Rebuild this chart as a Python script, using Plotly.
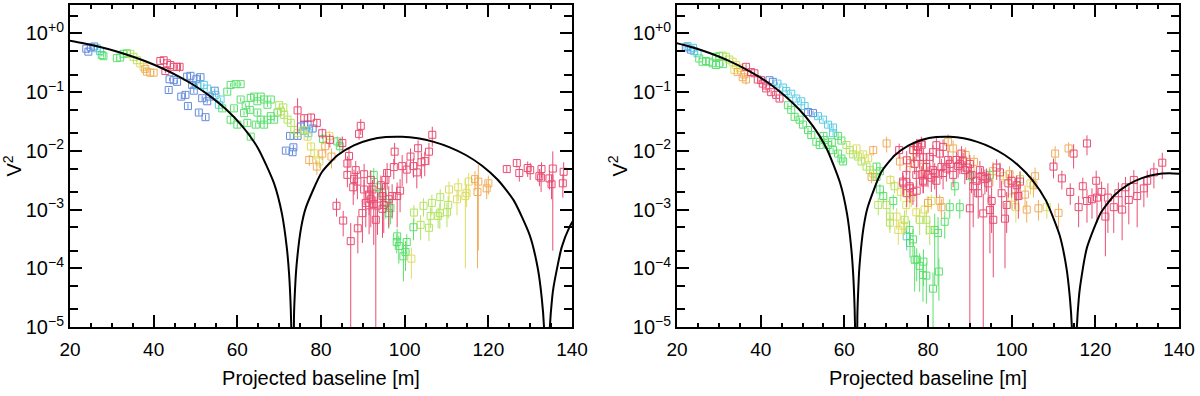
import plotly.graph_objects as go

# ---- model curves (uniform disk fits) ----
left_model_x = [19.1, 22.92, 26.74, 30.56, 34.38, 38.2, 42.02, 45.84, 49.66, 53.48, 57.3, 61.12,
                64.94, 68.76, 70.67, 71.82, 72.39, 72.77, 72.96, 73.19, 73.54, 73.73, 74.11, 75.25,
                76.4, 80.22, 84.04, 87.86, 91.68, 95.5, 99.32, 103.14, 106.96, 110.78, 114.6,
                118.42, 122.24, 126.06, 129.88, 131.79, 132.75, 133.32, 134.0, 134.66, 135.23,
                135.61, 137.52, 139.43, 141.34]
left_model_v2 = [0.7748, 0.6897, 0.5993, 0.5075, 0.4175, 0.3326, 0.2555, 0.1879, 0.1312, 0.0856,
                 0.0511, 0.02667, 0.01111, 0.002815, 8.46e-4, 2.27e-4, 7.7e-5, 2.08e-5, 6.0e-6,
                 1e-9, 1.48e-5, 3.54e-5, 1.03e-4, 4.93e-4, 1.089e-3, 4.36e-3, 8.5e-3, 0.01245,
                 0.01547, 0.01717, 0.01742, 0.01636, 0.01425, 0.0115, 0.00851, 0.00564, 0.00322,
                 0.001435, 3.68e-4, 1.02e-4, 3.16e-5, 9.3e-6, 1e-9, 8.7e-6, 3.04e-5, 4.96e-5,
                 2.27e-4, 5.12e-4, 8.77e-4]

right_model_x = [19.67, 22.95, 26.22, 29.5, 32.78, 36.06, 39.34, 42.61, 45.89, 49.17, 52.45, 55.73,
                 59.0, 60.64, 61.63, 62.12, 62.45, 62.61, 62.8, 63.1, 63.27, 63.59, 64.58, 65.56,
                 68.84, 72.12, 75.39, 78.67, 81.95, 85.23, 88.51, 91.78, 95.06, 98.34, 101.62,
                 104.9, 108.17, 111.45, 113.09, 113.91, 114.4, 114.99, 115.55, 116.04, 116.37,
                 118.01, 121.29, 124.56, 127.84, 131.12, 134.4, 137.68, 140.95]
right_model_v2 = [0.6897, 0.5993, 0.5075, 0.4175, 0.3326, 0.2555, 0.1879, 0.1312, 0.0856, 0.0511,
                  0.02667, 0.01111, 0.002815, 8.46e-4, 2.27e-4, 7.7e-5, 2.08e-5, 6.0e-6, 1e-9,
                  1.48e-5, 3.54e-5, 1.03e-4, 4.93e-4, 1.089e-3, 4.36e-3, 8.5e-3, 0.01245, 0.01547,
                  0.01717, 0.01742, 0.01636, 0.01425, 0.0115, 0.00851, 0.00564, 0.00322, 0.001435,
                  3.68e-4, 1.02e-4, 3.16e-5, 9.3e-6, 1e-9, 8.7e-6, 3.04e-5, 4.96e-5, 2.27e-4,
                  8.77e-4, 1.755e-3, 2.667e-3, 3.44e-3, 3.96e-3, 4.16e-3, 4.02e-3]

# ---- measured V2, left panel, grouped by spectral colour ----
left_blue_x = [23.9, 24.4, 25.0, 25.8,
               43.8, 43.6, 44.8, 45.6, 46.6, 47.6, 48.0, 48.2, 48.8, 49.2,
               49.6, 50.2, 50.8, 51.2, 51.6, 52.4, 52.8, 53.4, 54.6,
               71.6, 73.4, 73.2, 72.6, 74.4, 75.2, 76.0, 76.8, 78.0]
left_blue_v2 = [0.55, 0.49, 0.58, 0.60,
                0.166, 0.109, 0.16, 0.15, 0.084, 0.09, 0.184, 0.058, 0.19, 0.133,
                0.106, 0.166, 0.045, 0.18, 0.079, 0.0375, 0.07, 0.084, 0.106,
                0.0101, 0.0115, 0.0095, 0.018, 0.018, 0.026, 0.028, 0.028, 0.024]
left_blue_err = [0.03, 0.03, 0.03, 0.03,
                 0.01, 0.01, 0.01, 0.01, 0.008, 0.01, 0.02, 0.006, 0.03, 0.015,
                 0.01, 0.04, 0.005, 0.02, 0.008, 0.004, 0.006, 0.008, 0.01,
                 0.001, 0.0012, 0.001, 0.002, 0.002, 0.003, 0.003, 0.003, 0.003]

left_cyan_x = [26.4, 27.2, 50.5, 52.0, 52.8, 54.8, 55.6, 56.0, 75.8, 77.0]
left_cyan_v2 = [0.56, 0.50, 0.13, 0.133, 0.115, 0.09, 0.061, 0.075, 0.022, 0.02]
left_cyan_err = [0.03, 0.03, 0.01, 0.01, 0.01, 0.008, 0.006, 0.006, 0.003, 0.003]

left_green_x = [27.6, 28.0, 31.2, 32.0, 32.8, 33.6,
                56.4, 57.6, 58.4, 59.6, 60.8, 59.2, 58.4, 60.0, 60.8, 61.6,
                62.4, 63.2, 63.2, 64.0, 64.8, 65.6, 66.4, 67.2, 68.0, 64.8,
                65.6, 66.4, 67.2, 68.0, 68.8, 69.6, 64.4, 62.0, 63.0,
                80.5, 83.9, 84.5, 92.6, 94.7, 96.6, 96.2, 93.5, 95.5,
                98.1, 98.2, 98.6, 99.7, 100.5, 100.2, 102.1]
left_green_v2 = [0.43, 0.41, 0.38, 0.39, 0.45, 0.46,
                 0.053, 0.102, 0.133, 0.137, 0.137, 0.053, 0.034, 0.028, 0.075, 0.044,
                 0.03, 0.0175, 0.08, 0.084, 0.07, 0.084, 0.075, 0.061, 0.075, 0.045,
                 0.034, 0.028, 0.034, 0.039, 0.034, 0.045, 0.028, 0.06, 0.05,
                 0.016, 0.0145, 0.012, 0.0039, 0.0019, 0.00106, 0.00087, 0.0024, 0.0013,
                 0.00028, 0.00035, 0.00024, 0.00016, 0.00028, 0.00019, 0.0005]
left_green_err = [0.02, 0.02, 0.02, 0.02, 0.02, 0.02,
                  0.005, 0.008, 0.01, 0.01, 0.01, 0.005, 0.006, 0.004, 0.006, 0.004,
                  0.003, 0.002, 0.006, 0.006, 0.006, 0.006, 0.006, 0.005, 0.006, 0.004,
                  0.003, 0.003, 0.003, 0.003, 0.003, 0.003, 0.003, 0.005, 0.005,
                  0.003, 0.003, 0.003, 0.0012, 0.0008, 0.0005, 0.0004, 0.001, 0.0006,
                  0.0001, 0.00012, 0.00012, 0.0001, 0.0001, 0.0001, 0.0002]

left_lime_x = [34.4, 35.2, 36.0,
               70.4, 71.2, 72.0, 72.8, 73.6, 74.4, 70.0, 71.0,
               102.2, 103.8, 104.5, 105.8, 106.2, 106.5, 108.0, 108.4, 108.5, 110.1, 110.4]
left_lime_v2 = [0.45, 0.40, 0.35,
                0.047, 0.041, 0.034, 0.03, 0.0227, 0.02, 0.06, 0.055,
                0.00089, 0.00055, 0.00116, 0.00049, 0.00078, 0.0013, 0.00078, 0.00087, 0.00163,
                0.0009, 0.0012]
left_lime_err = [0.02, 0.02, 0.02,
                 0.004, 0.004, 0.003, 0.003, 0.003, 0.003, 0.005, 0.004,
                 0.0003, 0.00025, 0.0004, 0.0002, 0.0003, 0.0005, 0.0003, 0.0004, 0.0006,
                 0.0004, 0.0005]

left_yellow_x = [36.8, 37.6, 76.0, 76.8, 77.6, 78.4, 79.6, 82.0,
                 101.6, 110.6, 112.5, 112.8, 114.5, 114.8, 115.3]
left_yellow_v2 = [0.31, 0.27, 0.0227, 0.0175, 0.0119, 0.0091, 0.0066, 0.018,
                  0.000146, 0.0022, 0.0015, 0.0024, 0.0017, 0.0019, 0.003]
left_yellow_err = [0.02, 0.02, 0.003, 0.003, 0.002, 0.002, 0.0015, 0.004,
                   0.00008, 0.0008, 0.0007, 0.001, 0.0016, 0.0008, 0.0012]

left_orange_x = [38.0, 38.4, 39.2, 40.0, 77.2, 79.0, 80.3, 81.0, 82.5,
                 116.8, 117.4, 117.6, 119.6, 120.0]
left_orange_v2 = [0.25, 0.224, 0.215, 0.215, 0.007, 0.0054, 0.009, 0.012, 0.008,
                  0.0033, 0.002, 0.003, 0.0023, 0.0028]
left_orange_err = [0.015, 0.015, 0.015, 0.015, 0.0015, 0.0015, 0.002, 0.003, 0.003,
                   0.0012, 0.0019, 0.0028, 0.0008, 0.001]

left_red_x = [41.6, 42.4, 43.2, 44.0, 44.8, 45.6, 46.2, 42.8,
              74.4, 76.0, 77.6, 79.0,
              80.3, 82.1, 85.1, 86.7, 86.3, 88.3, 87.9, 88.7, 86.3, 90.3,
              90.3, 91.5, 90.7, 91.9, 91.5, 89.9, 92.6, 93.1, 91.9, 92.3,
              93.5, 94.7, 95.0, 94.7, 94.3, 95.4, 95.8, 96.2, 97.0, 98.2,
              98.9, 97.6, 97.4, 99.4, 100.5, 101.4, 102.1, 102.9, 103.2, 104.0,
              104.8, 105.8, 106.6, 87.7, 83.7, 85.3, 87.1, 88.8, 89.5, 89.1,
              124.4, 126.8, 127.4, 129.4, 130.0, 132.2, 132.7, 132.6, 134.6, 135.1,
              135.4, 137.8, 138.0]
left_red_v2 = [0.34, 0.35, 0.31, 0.29, 0.27, 0.27, 0.27, 0.23,
               0.049, 0.036, 0.037, 0.03,
               0.020, 0.0154, 0.0136, 0.0082, 0.0061, 0.0047, 0.0033, 0.003, 0.0039, 0.004,
               0.0022, 0.0018, 0.0013, 0.0015, 0.00118, 0.00087, 0.00125, 0.00067, 0.0032, 0.0022,
               0.00117, 0.00103, 0.0012, 0.0017, 0.0026, 0.0032, 0.0042, 0.0015, 0.0017, 0.0017,
               0.0021, 0.0097, 0.0053, 0.0055, 0.0048, 0.008, 0.0055, 0.0043, 0.0111, 0.0064,
               0.0067, 0.0097, 0.0188, 0.0024, 0.00116, 0.00065, 0.00029, 0.00048, 0.0267, 0.0195,
               0.0049, 0.0062, 0.0042, 0.0051, 0.0047, 0.0037, 0.0049, 0.0035, 0.0034, 0.0027,
               0.005, 0.0028, 0.0044]
left_red_err = [0.02, 0.02, 0.02, 0.02, 0.02, 0.02, 0.05, 0.02,
                0.03, 0.005, 0.006, 0.005,
                0.004, 0.004, 0.004, 0.003, 0.002, 0.002, 0.0015, 0.0015, 0.0015, 0.002,
                0.001, 0.001, 0.0008, 0.001, 0.0008, 0.0006, 0.001, 0.001, 0.0015, 0.001,
                0.0008, 0.0007, 0.0008, 0.001, 0.0012, 0.0015, 0.002, 0.001, 0.001, 0.0012,
                0.0012, 0.004, 0.002, 0.003, 0.002, 0.003, 0.002, 0.002, 0.004, 0.003,
                0.003, 0.004, 0.007, 0.0012, 0.0004, 0.0003, 0.0003, 0.0003, 0.008, 0.004,
                0.0006, 0.001, 0.0012, 0.0015, 0.0015, 0.0012, 0.0015, 0.0015, 0.0012, 0.0012,
                0.0048, 0.0012, 0.002]

# ---- measured V2, right panel ----
right_blue_x = [22.1, 23.3, 42.1, 42.9, 51.3, 52.5]
right_blue_v2 = [0.58, 0.53, 0.16, 0.15, 0.046, 0.044]
right_blue_err = [0.03, 0.03, 0.01, 0.01, 0.004, 0.004]

right_cyan_x = [22.5, 23.8, 24.1, 24.9, 44.0, 45.3, 46.1, 47.3, 48.5, 49.7, 50.5,
                53.7, 54.9, 56.1, 57.3, 57.3, 74.9]
right_cyan_v2 = [0.61, 0.57, 0.50, 0.46, 0.14, 0.12, 0.105, 0.094, 0.078, 0.07, 0.058,
                 0.039, 0.034, 0.028, 0.025, 0.02, 0.00035]
right_cyan_err = [0.03, 0.03, 0.03, 0.03, 0.01, 0.01, 0.01, 0.008, 0.007, 0.006, 0.005,
                  0.004, 0.003, 0.003, 0.003, 0.002, 0.00015]

right_green_x = [25.3, 26.1, 26.9, 27.7, 28.5, 29.3, 30.1, 31.0, 29.3, 30.1,
                 46.5, 47.3, 48.1, 49.3, 50.1, 51.3, 52.1, 53.3, 54.1, 55.3,
                 56.1, 57.3, 58.5, 59.3, 59.7, 55.0, 57.0, 58.5, 59.3, 67.7,
                 67.7, 68.5, 68.5, 69.3, 71.7, 75.7, 77.3, 78.9, 75.6, 76.4,
                 76.8, 78.0, 78.8, 79.6, 81.2, 81.6, 82.4, 82.6, 84.0, 85.2,
                 87.6, 86.4, 90.0, 94.8]
right_green_v2 = [0.375, 0.33, 0.34, 0.33, 0.31, 0.29, 0.31, 0.30, 0.40, 0.41,
                  0.06, 0.05, 0.038, 0.034, 0.028, 0.0226, 0.0186, 0.0143, 0.0126, 0.0153,
                  0.0126, 0.0103, 0.009, 0.0074, 0.0066, 0.018, 0.014, 0.018, 0.015, 0.0036,
                  0.0054, 0.0045, 0.0022, 0.0017, 0.0014, 0.00027, 0.00014, 0.00013, 0.00045, 0.00031,
                  0.00014, 0.00011, 7.7e-5, 7.5e-5, 4.5e-5, 0.00045, 0.0004, 8.8e-5, 0.00062, 0.0011,
                  0.0011, 0.0025, 0.0037, 0.0039]
right_green_err = [0.02, 0.02, 0.02, 0.02, 0.02, 0.02, 0.02, 0.02, 0.02, 0.02,
                   0.005, 0.005, 0.004, 0.003, 0.003, 0.002, 0.002, 0.0015, 0.0013, 0.0015,
                   0.0013, 0.001, 0.001, 0.0008, 0.0008, 0.002, 0.0015, 0.002, 0.0015, 0.0006,
                   0.0008, 0.0007, 0.0005, 0.0004, 0.0004, 0.00012, 0.00008, 0.00008, 0.0002, 0.00015,
                   0.0001, 0.00007, 0.00005, 0.00005, 0.00004, 0.0004, 0.00035, 0.00006, 0.0003, 0.0004,
                   0.0004, 0.0008, 0.001, 0.001]

right_lime_x = [30.9, 31.7, 32.5, 60.5, 61.3, 62.1, 63.3, 64.1, 65.3, 66.1, 66.9,
                68.1, 70.1, 70.9, 70.9, 74.4, 78.0, 79.6, 80.4, 72.0, 102.0]
right_lime_v2 = [0.42, 0.40, 0.36, 0.0126, 0.0103, 0.0087, 0.008, 0.0066, 0.0054, 0.0047, 0.0041,
                 0.0012, 0.0012, 0.00076, 0.0006, 0.00067, 0.00067, 0.00067, 0.00045, 0.0025, 0.0033]
right_lime_err = [0.02, 0.02, 0.02, 0.0013, 0.001, 0.001, 0.001, 0.0008, 0.0007, 0.0007, 0.0006,
                  0.0004, 0.0004, 0.0003, 0.0002, 0.0003, 0.0003, 0.0003, 0.0002, 0.0006, 0.001]

right_yellow_x = [33.3, 34.1, 33.7, 35.0, 62.9, 64.5, 65.7, 72.5, 72.9, 74.1, 74.8,
                  77.2, 79.2, 80.8, 76.0, 73.5, 71.0, 98.0, 104.5, 108.4, 100.0, 101.0]
right_yellow_v2 = [0.33, 0.29, 0.24, 0.26, 0.011, 0.0087, 0.0075, 0.00076, 0.00045, 0.00053, 0.0012,
                   0.0009, 0.001, 0.0014, 0.0016, 0.002, 0.0032, 0.0037, 0.0028, 0.0011, 0.0016, 0.0011]
right_yellow_err = [0.02, 0.02, 0.02, 0.02, 0.0012, 0.001, 0.001, 0.0003, 0.0002, 0.0002, 0.0004,
                    0.0003, 0.0004, 0.0004, 0.0005, 0.0006, 0.0007, 0.001, 0.001, 0.0004, 0.0006, 0.0005]

right_orange_x = [34.5, 35.7, 36.5, 36.1, 66.5, 66.9, 70.1, 80.0, 82.8, 83.2, 84.8,
                  76.4, 86.0, 89.0, 91.0, 95.5, 99.5, 73.3, 75.7, 78.9, 110.4, 113.6,
                  103.6, 106.4, 111.2, 105.2, 103.2, 105.6]
right_orange_v2 = [0.22, 0.18, 0.165, 0.20, 0.0036, 0.0103, 0.0134, 0.0013, 0.0014, 0.0011, 0.0143,
                   0.0103, 0.011, 0.0085, 0.0065, 0.0045, 0.004, 0.0066, 0.0062, 0.0054, 0.009, 0.011,
                   0.001, 0.00105, 0.00088, 0.0026, 0.0018, 0.0037]
right_orange_err = [0.02, 0.02, 0.03, 0.02, 0.0008, 0.002, 0.004, 0.0004, 0.0004, 0.0004, 0.005,
                    0.003, 0.004, 0.003, 0.002, 0.002, 0.0015, 0.002, 0.002, 0.002, 0.003, 0.003,
                    0.0004, 0.0004, 0.0004, 0.001, 0.0008, 0.0015]

right_red_x = [36.5, 37.7, 38.5, 39.3, 40.1, 41.3, 42.5, 43.7, 44.5, 41.3, 40.5,
               73.1, 74.9, 76.5, 77.3, 78.5, 78.9, 74.1, 74.9, 75.7, 77.3,
               78.9, 78.5, 74.8, 75.6, 74.0, 76.8, 77.6, 78.4, 78.0, 77.2,
               76.4, 78.8, 79.6, 80.0, 80.8, 81.2, 81.6, 82.0, 82.8, 83.2,
               83.6, 84.4, 85.2, 86.0, 86.8, 87.2, 88.0, 88.4, 88.8, 89.2,
               90.0, 90.4, 90.8, 90.0, 91.6, 92.0, 92.8, 93.2, 94.0, 94.4,
               94.8, 95.2, 95.6, 96.4, 97.2, 97.6, 98.4, 98.8, 99.2, 100.0,
               100.8, 101.2, 102.0, 101.6, 80.4, 81.2, 84.8, 87.6, 83.6, 92.4,
               93.6, 82.0, 110.0, 112.0, 114.8, 118.0, 114.0, 116.0, 117.0, 118.0,
               120.2, 119.2, 120.4, 122.4, 124.4, 126.4, 128.0, 129.2, 130.0, 131.6,
               132.4, 134.0, 136.0, 121.5, 123.0, 125.5, 127.2]
right_red_v2 = [0.27, 0.22, 0.21, 0.164, 0.16, 0.116, 0.10, 0.09, 0.078, 0.13, 0.14,
                0.0103, 0.0069, 0.0103, 0.012, 0.0127, 0.0078, 0.0028, 0.0019, 0.0023, 0.0021,
                0.0029, 0.004, 0.0039, 0.0025, 0.003, 0.006, 0.0117, 0.0134, 0.0079, 0.0039,
                0.002, 0.0031, 0.0053, 0.0039, 0.0035, 0.0047, 0.0042, 0.0031, 0.009, 0.0053,
                0.0042, 0.005, 0.006, 0.0039, 0.007, 0.0055, 0.009, 0.0068, 0.0047, 0.0052,
                0.006, 0.0039, 0.0025, 0.00105, 0.0031, 0.0019, 0.0037, 0.00086, 0.0035, 0.0028,
                0.00098, 0.0014, 0.00067, 0.0052, 0.0043, 0.0019, 0.0007, 0.0012, 0.0028, 0.0031,
                0.0022, 0.0026, 0.003, 0.0017, 0.0079, 0.0095, 0.007, 0.006, 0.0117, 0.0047,
                0.0033, 0.0125, 0.0054, 0.0034, 0.009, 0.0134, 0.002, 0.0011, 0.0025, 0.0014,
                0.0031, 0.0015, 0.0016, 0.00076, 0.0011, 0.001, 0.00146, 0.0032, 0.0017, 0.0023,
                0.0031, 0.0043, 0.0063, 0.002, 0.0016, 0.0019, 0.0024]
right_red_err = [0.03, 0.02, 0.02, 0.015, 0.015, 0.01, 0.01, 0.01, 0.008, 0.01, 0.01,
                 0.003, 0.003, 0.004, 0.004, 0.004, 0.003, 0.001, 0.0008, 0.001, 0.001,
                 0.001, 0.0015, 0.0015, 0.001, 0.0012, 0.002, 0.004, 0.004, 0.003, 0.0015,
                 0.0008, 0.0012, 0.002, 0.0015, 0.0015, 0.002, 0.002, 0.0015, 0.003, 0.002,
                 0.002, 0.002, 0.002, 0.0015, 0.0025, 0.002, 0.003, 0.0025, 0.002, 0.002,
                 0.0025, 0.002, 0.002, 0.0012, 0.0015, 0.0012, 0.0015, 0.001, 0.0015, 0.0015,
                 0.0008, 0.001, 0.0006, 0.002, 0.002, 0.0012, 0.0006, 0.0008, 0.0012, 0.0015,
                 0.0012, 0.0012, 0.0015, 0.001, 0.003, 0.003, 0.003, 0.002, 0.004, 0.002,
                 0.0015, 0.004, 0.002, 0.0012, 0.004, 0.005, 0.0008, 0.0006, 0.001, 0.0008,
                 0.0015, 0.0008, 0.001, 0.0006, 0.0007, 0.0007, 0.0009, 0.0015, 0.0012, 0.0012,
                 0.0015, 0.002, 0.003, 0.001, 0.0012, 0.001, 0.0012]

colors = {
    'blue': '#4a78d6',
    'cyan': '#3fc6e0',
    'green': '#3fdc55',
    'lime': '#a8e04a',
    'yellow': '#d9d94a',
    'orange': '#f0a040',
    'red': '#e6305c',
}

panels = {
    'x': {
        'blue': (left_blue_x, left_blue_v2, left_blue_err),
        'cyan': (left_cyan_x, left_cyan_v2, left_cyan_err),
        'green': (left_green_x, left_green_v2, left_green_err),
        'lime': (left_lime_x, left_lime_v2, left_lime_err),
        'yellow': (left_yellow_x, left_yellow_v2, left_yellow_err),
        'orange': (left_orange_x, left_orange_v2, left_orange_err),
        'red': (left_red_x, left_red_v2, left_red_err),
    },
    'x2': {
        'blue': (right_blue_x, right_blue_v2, right_blue_err),
        'cyan': (right_cyan_x, right_cyan_v2, right_cyan_err),
        'green': (right_green_x, right_green_v2, right_green_err),
        'lime': (right_lime_x, right_lime_v2, right_lime_err),
        'yellow': (right_yellow_x, right_yellow_v2, right_yellow_err),
        'orange': (right_orange_x, right_orange_v2, right_orange_err),
        'red': (right_red_x, right_red_v2, right_red_err),
    },
}

fig = go.Figure()

for xref, groups in panels.items():
    yref = 'y' if xref == 'x' else 'y2'
    for name, (bx, v2, err) in groups.items():
        fig.add_trace(go.Scatter(
            x=bx, y=v2, mode='markers', xaxis=xref, yaxis=yref, showlegend=False,
            marker=dict(symbol='square-open', size=7, color=colors[name], line=dict(width=1)),
            error_y=dict(type='data', array=err, visible=True, width=0, thickness=1,
                         color=colors[name]),
            opacity=0.85,
        ))

for xref, yref, mx, my in [('x', 'y', left_model_x, left_model_v2),
                           ('x2', 'y2', right_model_x, right_model_v2)]:
    fig.add_trace(go.Scatter(
        x=mx, y=my, mode='lines', xaxis=xref, yaxis=yref, showlegend=False,
        line=dict(color='black', width=2, shape='spline', smoothing=0.6),
    ))

family = 'Liberation Sans, Arial, sans-serif'
xtick_font = dict(family=family, size=19, color='black')
ytick_font = dict(family=family, size=20, color='black')
title_font = dict(family=family, size=20, color='black')
decades = [1e-5, 1e-4, 1e-3, 1e-2, 1e-1, 1]
dec_text = ['10<sup>−5</sup>', '10<sup>−4</sup>', '10<sup>−3</sup>',
            '10<sup>−2</sup>', '10<sup>−1</sup>', '10<sup>+0</sup>']
minor_y = [m * d for d in decades for m in (2, 5)]

x_common = dict(
    range=[20, 140], showline=True, linewidth=2, linecolor='black', mirror='ticks',
    ticks='inside', ticklen=12, tickwidth=1.5, tickcolor='black', dtick=20, tick0=0,
    minor=dict(ticks='inside', dtick=5, tick0=0, ticklen=4, tickwidth=1.5, tickcolor='black'),
    showgrid=False, zeroline=False, tickfont=xtick_font, automargin=False, ticklabelstandoff=4,
    title=dict(text='Projected baseline [m]', font=title_font, standoff=12),
)
x_mid = dict(
    range=[20, 140], showline=False, mirror='ticks', ticks='inside', ticklen=8,
    tickwidth=1.5, tickcolor='black', dtick=10, tick0=0, showticklabels=False,
    showgrid=False, zeroline=False, automargin=False,
)
y_common = dict(
    type='log', range=[-5, 0.485], showline=True, linewidth=2, linecolor='black',
    mirror='ticks', ticks='inside', ticklen=12, tickwidth=1.5, tickcolor='black',
    tickmode='array', tickvals=decades, ticktext=dec_text,
    minor=dict(ticks='inside', tickmode='array', tickvals=minor_y, ticklen=8,
               tickwidth=1.5, tickcolor='black'),
    showgrid=False, zeroline=False, tickfont=ytick_font, automargin=False,
    title=dict(text='V<sup>2</sup>', font=title_font, standoff=0),
)

fig.update_layout(
    width=1200, height=396,
    margin=dict(l=0, r=0, t=5, b=69),
    paper_bgcolor='white', plot_bgcolor='white',
    font=title_font,
    xaxis=dict(x_common, domain=[0.0583, 0.4767], anchor='y'),
    yaxis=dict(y_common, domain=[0, 1], anchor='x'),
    xaxis2=dict(x_common, domain=[0.5642, 0.9825], anchor='y2'),
    yaxis2=dict(y_common, domain=[0, 1], anchor='x2'),
    xaxis3=dict(x_mid, overlaying='x', anchor='y'),
    xaxis4=dict(x_mid, overlaying='x2', anchor='y2'),
)

# drop the browser's default page margin so the figure sits at the window origin
fig.write_html('out.html', config={'displayModeBar': False},
               post_script="document.body.style.margin = '0px';")
